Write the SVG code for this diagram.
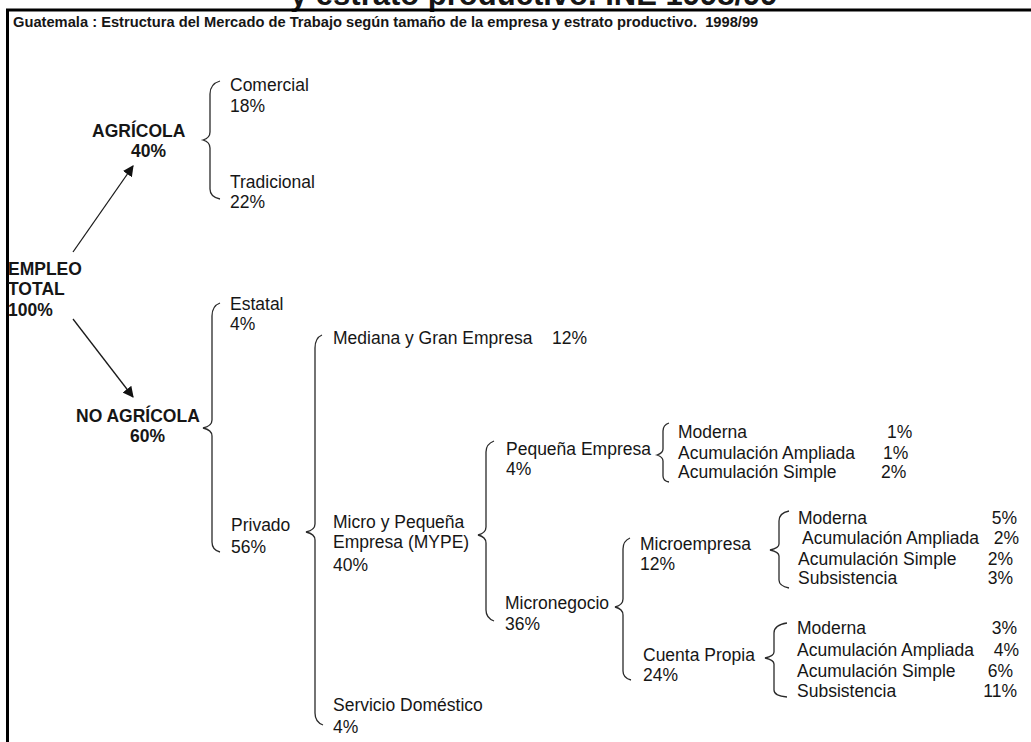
<svg xmlns="http://www.w3.org/2000/svg" width="1031" height="742" viewBox="0 0 1031 742">
<defs>
<style>
text{font-family:"Liberation Sans",Arial,sans-serif;fill:#161616;white-space:pre}
.t{font-size:17.5px}
.b{font-size:17.5px;font-weight:bold}
.title{font-size:14.7px;font-weight:bold}
.cut{font-size:31px;font-weight:bold}
.br{fill:none;stroke:#2a2a2a;stroke-width:1.3}
.ar{stroke:#1a1a1a;stroke-width:1.3;fill:none;marker-end:url(#ah)}
.frame{stroke:#000;stroke-width:3;fill:none}
</style>
<marker id="ah" viewBox="0 0 10 10" refX="9" refY="5" markerWidth="11" markerHeight="11" markerUnits="userSpaceOnUse" orient="auto">
<path d="M0,0 L10,5 L0,10 z" fill="#111"/>
</marker>
</defs>
<rect width="1031" height="742" fill="#fff"/>
<text class="cut" x="290" y="5">y estrato productivo. INE 1998/99</text>
<path class="frame" d="M7.5,742 V10 H1031"/>
<text class="title" x="13" y="27">Guatemala : Estructura del Mercado de Trabajo según tamaño de la empresa y estrato productivo.  1998/99</text>

<g id="connectors">
<line class="ar" x1="73" y1="252" x2="133" y2="166"/>
<line class="ar" x1="73" y1="319" x2="133" y2="397"/>
<path class="br" d="M220,81 Q210,84 210,94 L210,132 Q210,138 203,140 Q210,142 210,148 L210,189 Q210,197 220,199"/>
<path class="br" d="M220,303 Q212,306 212,316 L212,420 Q212,426 203,428 Q212,430 212,436 L212,542 Q212,550 220,552"/>
<path class="br" d="M322,335 Q315,338 315,348 L315,524 Q315,530 306,532 Q315,534 315,540 L315,713 Q315,722 323,725"/>
<path class="br" d="M494,441 Q486,444 486,452 L486,527 Q486,533 478,535 Q486,537 486,543 L486,610 Q486,618 494,621"/>
<path class="br" d="M630,538 Q623,541 623,549 L623,599 Q623,605 615,607 Q623,609 623,615 L623,671 Q623,678 631,680"/>
<path class="br" d="M669,423 Q663,425 663,431 L663,449 Q663,453 657,455 Q663,457 663,461 L663,476 Q663,481 669,482"/>
<path class="br" d="M789,511 Q779,513 779,521 L779,544 Q779,548 770,550 Q779,552 779,556 L779,580 Q779,586 789,588"/>
<path class="br" d="M787,623 Q774,625 774,633 L774,652 Q774,656 765,658 Q774,660 774,664 L774,690 Q774,696 787,697"/>
</g>

<g id="n-empleo"><text class="b" x="8" y="275">EMPLEO</text><text class="b" x="8" y="295">TOTAL</text><text class="b" x="8" y="316">100%</text></g>
<g id="n-agricola"><text class="b" x="92" y="137">AGRÍCOLA</text><text class="b" x="131" y="157">40%</text></g>
<g id="n-comercial"><text class="t" x="230" y="91">Comercial</text><text class="t" x="230" y="112">18%</text></g>
<g id="n-tradicional"><text class="t" x="230" y="188">Tradicional</text><text class="t" x="230" y="208">22%</text></g>
<g id="n-noagricola"><text class="b" x="76" y="422">NO AGRÍCOLA</text><text class="b" x="130" y="442">60%</text></g>
<g id="n-estatal"><text class="t" x="230" y="310">Estatal</text><text class="t" x="230" y="330">4%</text></g>
<g id="n-privado"><text class="t" x="231" y="531">Privado</text><text class="t" x="231" y="553">56%</text></g>
<g id="n-mediana"><text class="t" x="333" y="344">Mediana y Gran Empresa<tspan x="552">12%</tspan></text></g>
<g id="n-mype"><text class="t" x="333" y="528">Micro y Pequeña</text><text class="t" x="333" y="548">Empresa (MYPE)</text><text class="t" x="333" y="571">40%</text></g>
<g id="n-servicio"><text class="t" x="333" y="711">Servicio Doméstico</text><text class="t" x="333" y="733">4%</text></g>
<g id="n-pequena"><text class="t" x="506" y="455">Pequeña Empresa</text><text class="t" x="506" y="475">4%</text></g>
<g id="n-pequena-items">
<text class="t" x="678" y="438">Moderna</text><text class="t" x="887" y="438">1%</text>
<text class="t" x="678" y="459">Acumulación Ampliada</text><text class="t" x="883" y="459">1%</text>
<text class="t" x="678" y="478">Acumulación Simple</text><text class="t" x="881" y="478">2%</text>
</g>
<g id="n-micronegocio"><text class="t" x="505" y="609">Micronegocio</text><text class="t" x="505" y="630">36%</text></g>
<g id="n-microempresa"><text class="t" x="640" y="550">Microempresa</text><text class="t" x="640" y="570">12%</text></g>
<g id="n-microempresa-items">
<text class="t" x="798" y="524">Moderna</text><text class="t" x="1017" y="524" text-anchor="end">5%</text>
<text class="t" x="802" y="544">Acumulación Ampliada</text><text class="t" x="1019" y="544" text-anchor="end">2%</text>
<text class="t" x="798" y="565">Acumulación Simple</text><text class="t" x="1013" y="565" text-anchor="end">2%</text>
<text class="t" x="798" y="584">Subsistencia</text><text class="t" x="1013" y="584" text-anchor="end">3%</text>
</g>
<g id="n-cuentapropia"><text class="t" x="643" y="661">Cuenta Propia</text><text class="t" x="643" y="681">24%</text></g>
<g id="n-cuentapropia-items">
<text class="t" x="797" y="634">Moderna</text><text class="t" x="1017" y="634" text-anchor="end">3%</text>
<text class="t" x="797" y="656">Acumulación Ampliada</text><text class="t" x="1019" y="656" text-anchor="end">4%</text>
<text class="t" x="797" y="677">Acumulación Simple</text><text class="t" x="1013" y="677" text-anchor="end">6%</text>
<text class="t" x="797" y="697">Subsistencia</text><text class="t" x="1017" y="697" text-anchor="end">11%</text>
</g>
</svg>
